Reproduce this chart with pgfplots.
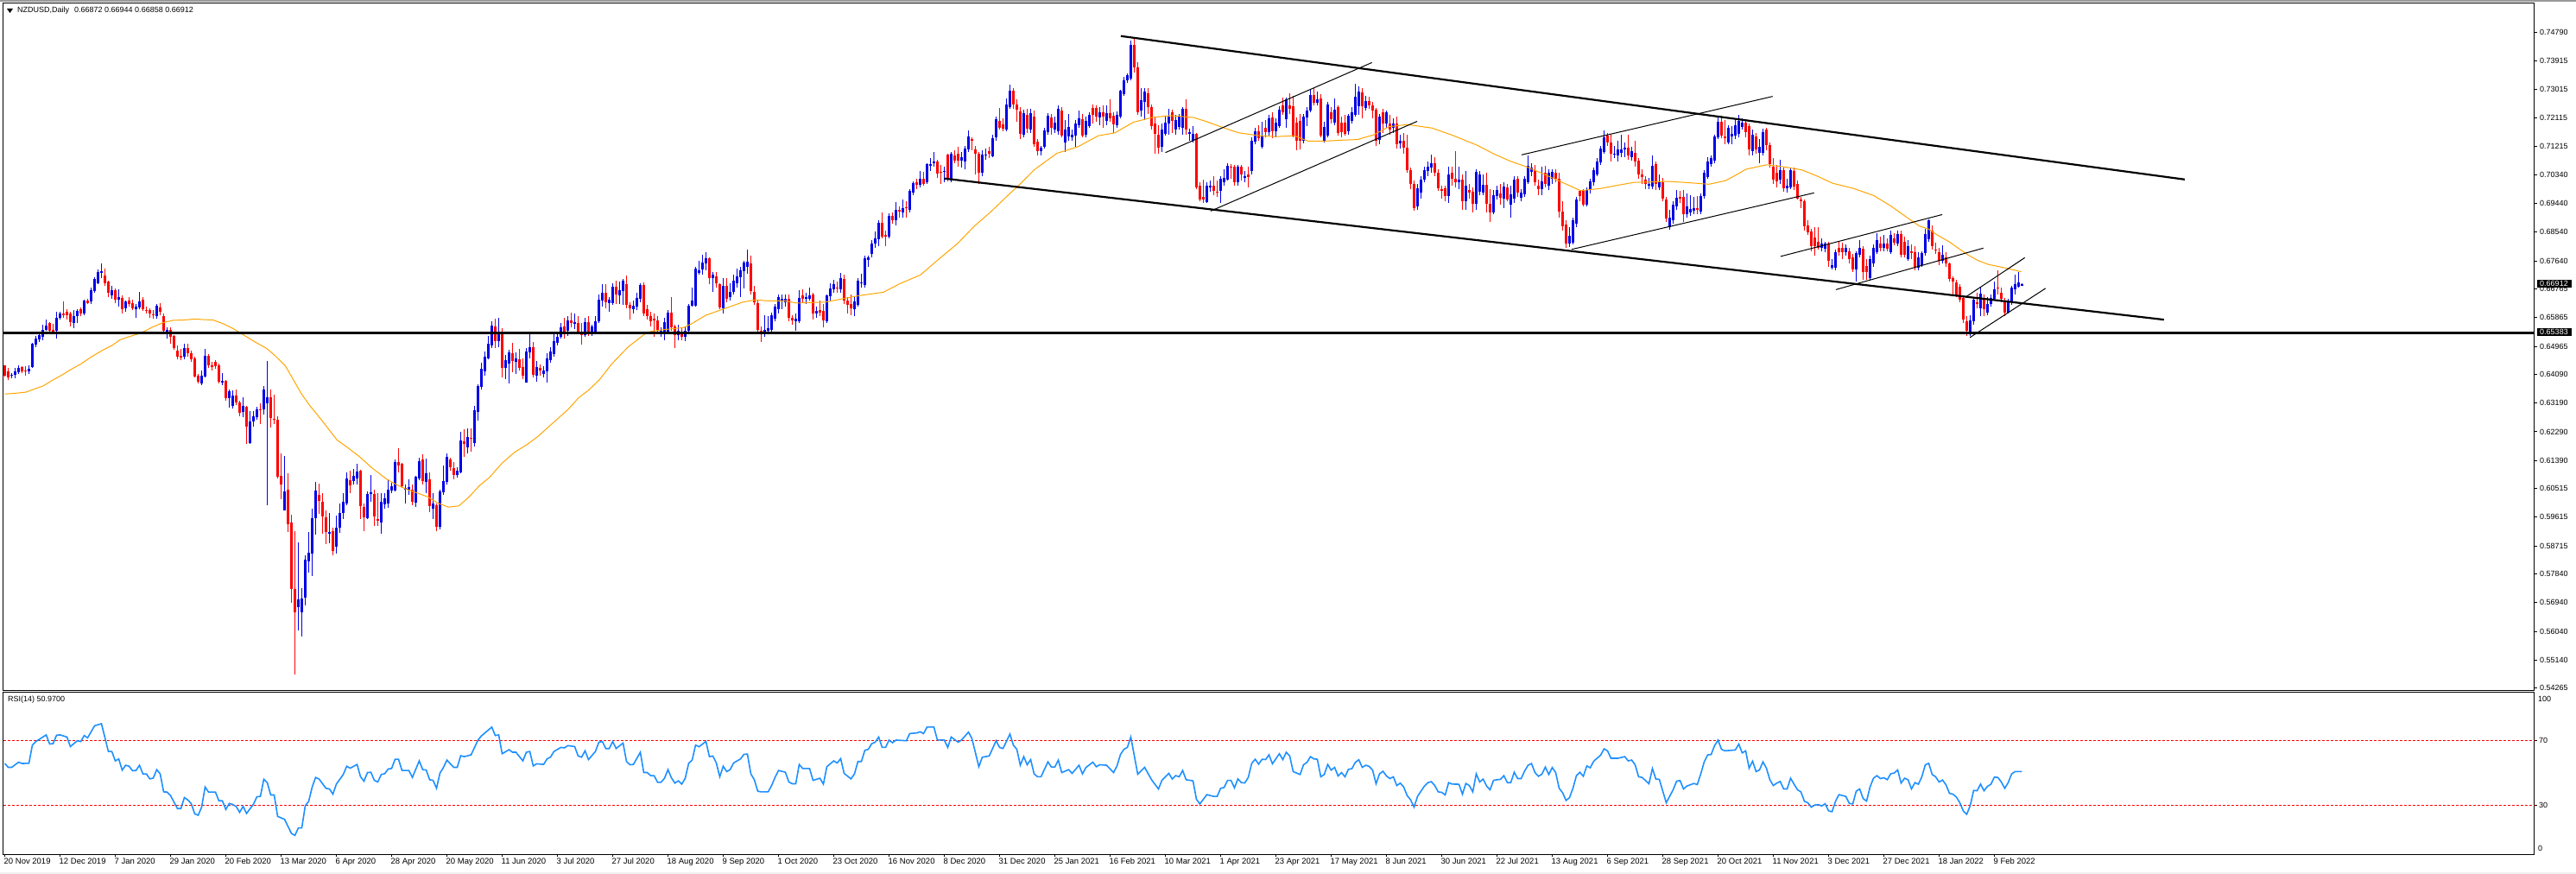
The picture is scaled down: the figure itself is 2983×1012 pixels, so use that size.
\documentclass[border=0pt]{standalone}
\usepackage{fontspec}
\setmainfont{Liberation Sans}
\usepackage{pgfplots}
\usepackage{pgfplotstable}
\pgfplotsset{compat=1.18}
\definecolor{cBull}{HTML}{0000E6}
\definecolor{cBear}{HTML}{FF0000}
\definecolor{cMA}{HTML}{FFA500}
\definecolor{cRSI}{HTML}{1E90FF}
% NZDUSD daily candles: bar index, open, high, low, close, in 1/10000
\pgfplotstableread{
i o h l c
0 6436 6438 6403 6405
1 6418 6430 6390 6400
2 6405 6412 6396 6407
3 6407 6430 6396 6418
4 6416 6436 6410 6430
5 6432 6435 6412 6418
6 6421 6434 6405 6418
7 6418 6436 6410 6427
8 6432 6508 6428 6504
9 6502 6528 6495 6522
10 6517 6536 6510 6531
11 6525 6563 6515 6549
12 6549 6580 6545 6562
13 6569 6573 6540 6545
14 6547 6566 6538 6543
15 6544 6604 6522 6585
16 6587 6604 6580 6599
17 6599 6637 6585 6594
18 6605 6614 6580 6594
19 6599 6605 6560 6573
20 6570 6609 6554 6591
21 6590 6614 6570 6607
22 6612 6618 6590 6599
23 6599 6642 6595 6639
24 6639 6645 6628 6633
25 6637 6680 6628 6672
26 6669 6712 6665 6707
27 6695 6738 6690 6729
28 6726 6756 6711 6732
29 6718 6740 6685 6695
30 6699 6702 6652 6663
31 6657 6686 6645 6671
32 6672 6678 6632 6642
33 6642 6676 6620 6651
34 6648 6655 6600 6614
35 6615 6640 6605 6636
36 6639 6650 6622 6630
37 6633 6643 6610 6616
38 6612 6630 6585 6621
39 6618 6666 6612 6636
40 6642 6650 6608 6612
41 6611 6620 6598 6607
42 6609 6615 6585 6599
43 6597 6610 6582 6594
44 6591 6628 6582 6624
45 6618 6632 6595 6606
46 6590 6600 6535 6545
47 6543 6556 6520 6547
48 6547 6556 6505 6526
49 6529 6533 6485 6490
50 6483 6500 6455 6463
51 6466 6488 6452 6462
52 6463 6505 6455 6492
53 6490 6505 6465 6474
54 6474 6483 6448 6456
55 6460 6465 6398 6402
56 6405 6410 6380 6387
57 6380 6420 6376 6405
58 6402 6488 6398 6466
59 6468 6472 6428 6436
60 6438 6447 6420 6432
61 6447 6452 6425 6434
62 6438 6442 6380 6387
63 6384 6412 6375 6389
64 6389 6392 6325 6333
65 6333 6362 6305 6355
66 6310 6358 6303 6342
67 6342 6360 6312 6321
68 6322 6325 6278 6289
69 6290 6336 6276 6310
70 6306 6310 6191 6245
71 6194 6295 6192 6262
72 6262 6295 6245 6277
73 6275 6306 6268 6298
74 6298 6317 6252 6296
75 6298 6372 6284 6361
76 6318 6451 6000 6337
77 6337 6362 6241 6271
78 6270 6344 6252 6267
79 6267 6277 6084 6087
80 6090 6160 6017 6063
81 5984 6152 5984 6043
82 6048 6099 5916 5940
83 5946 5968 5693 5738
84 5738 5918 5468 5663
85 5680 5882 5606 5704
86 5665 5740 5587 5706
87 5709 5843 5686 5828
88 5822 5914 5789 5851
89 5847 5988 5778 5959
90 5958 6071 5907 6044
91 6031 6066 5972 6013
92 6010 6037 5911 5964
93 5961 5983 5877 5915
94 5909 5974 5880 5915
95 5919 5929 5843 5857
96 5868 5967 5848 5930
97 5929 6004 5913 5975
98 5975 6037 5956 6010
99 6004 6101 5999 6084
100 6077 6107 6037 6061
101 6074 6112 6063 6090
102 6082 6130 6063 6105
103 6107 6110 5956 5995
104 5993 6004 5918 5961
105 5959 6041 5955 6033
106 6033 6093 6010 6039
107 6033 6047 5934 5965
108 5956 6037 5934 5951
109 5946 6037 5909 6010
110 6002 6037 5988 6020
111 6004 6080 5990 6048
112 6045 6069 6037 6058
113 6045 6141 6043 6135
114 6133 6177 6101 6124
115 6128 6131 6053 6058
116 6048 6063 6004 6054
117 6048 6080 6031 6055
118 6048 6063 5999 6010
119 6006 6090 5993 6087
120 6084 6149 6077 6136
121 6143 6159 6063 6074
122 6073 6144 6037 6100
123 6080 6101 5977 5995
124 5987 6037 5956 6004
125 5998 6004 5918 5932
126 5932 6047 5923 6042
127 6039 6123 6031 6075
128 6071 6160 6063 6151
129 6143 6149 6107 6119
130 6114 6133 6080 6093
131 6094 6117 6085 6107
132 6102 6230 6099 6201
133 6199 6236 6150 6190
134 6180 6241 6160 6213
135 6211 6239 6166 6209
136 6194 6311 6182 6296
137 6290 6378 6263 6373
138 6369 6445 6360 6427
139 6418 6480 6405 6463
140 6460 6528 6455 6504
141 6499 6575 6490 6562
142 6560 6583 6490 6513
143 6513 6585 6495 6540
144 6540 6553 6400 6429
145 6429 6470 6395 6452
146 6442 6485 6380 6477
147 6475 6508 6415 6450
148 6447 6478 6410 6459
149 6456 6488 6420 6429
150 6432 6460 6395 6405
151 6382 6490 6382 6479
152 6477 6535 6460 6495
153 6495 6510 6400 6407
154 6405 6450 6385 6432
155 6429 6440 6405 6420
156 6409 6435 6398 6421
157 6418 6475 6383 6459
158 6454 6495 6445 6481
159 6472 6535 6465 6513
160 6507 6540 6500 6526
161 6526 6570 6520 6555
162 6558 6585 6520 6543
163 6544 6592 6530 6579
164 6578 6603 6555 6570
165 6567 6600 6550 6573
166 6570 6590 6535 6543
167 6540 6570 6503 6531
168 6531 6585 6525 6571
169 6571 6590 6530 6537
170 6535 6565 6530 6558
171 6543 6590 6535 6576
172 6574 6660 6570 6642
173 6639 6690 6620 6663
174 6663 6692 6615 6635
175 6632 6650 6605 6643
176 6633 6693 6625 6684
177 6684 6703 6628 6659
178 6657 6700 6630 6671
179 6669 6708 6625 6702
180 6690 6718 6615 6625
181 6625 6635 6580 6615
182 6612 6640 6600 6624
183 6621 6665 6610 6648
184 6644 6695 6635 6689
185 6689 6697 6592 6600
186 6612 6625 6580 6590
187 6591 6605 6560 6576
188 6583 6600 6525 6579
189 6579 6590 6535 6544
190 6540 6556 6525 6546
191 6540 6585 6516 6571
192 6540 6610 6535 6603
193 6603 6652 6545 6555
194 6558 6565 6490 6531
195 6531 6565 6515 6544
196 6534 6555 6515 6526
197 6525 6560 6513 6546
198 6544 6630 6535 6624
199 6624 6680 6620 6639
200 6624 6745 6620 6741
201 6726 6765 6720 6735
202 6738 6783 6720 6759
203 6756 6790 6735 6772
204 6772 6776 6690 6711
205 6711 6730 6668 6720
206 6716 6730 6680 6693
207 6690 6695 6612 6618
208 6616 6710 6600 6687
209 6687 6710 6635 6644
210 6651 6695 6640 6666
211 6666 6722 6660 6702
212 6693 6740 6680 6716
213 6714 6745 6650 6735
214 6732 6765 6678 6759
215 6744 6799 6725 6761
216 6756 6780 6660 6669
217 6666 6687 6625 6634
218 6633 6640 6540 6549
219 6546 6560 6510 6540
220 6543 6595 6525 6549
221 6544 6590 6535 6553
222 6549 6601 6540 6594
223 6583 6630 6575 6621
224 6614 6660 6600 6651
225 6639 6660 6612 6644
226 6634 6660 6620 6644
227 6644 6658 6575 6585
228 6585 6595 6565 6579
229 6576 6600 6545 6582
230 6576 6672 6570 6648
231 6657 6675 6635 6644
232 6644 6665 6630 6651
233 6644 6680 6640 6657
234 6660 6665 6580 6599
235 6599 6620 6585 6607
236 6609 6640 6590 6603
237 6607 6630 6555 6579
238 6576 6660 6570 6657
239 6653 6695 6640 6678
240 6675 6705 6665 6690
241 6681 6700 6665 6678
242 6675 6727 6665 6711
243 6708 6722 6630 6639
244 6639 6650 6600 6627
245 6628 6660 6595 6615
246 6612 6650 6590 6636
247 6627 6710 6620 6702
248 6693 6725 6680 6696
249 6689 6780 6680 6772
250 6768 6780 6745 6774
251 6785 6830 6775 6817
252 6819 6855 6805 6835
253 6833 6890 6810 6882
254 6882 6915 6835 6840
255 6846 6860 6810 6840
256 6840 6912 6835 6905
257 6905 6915 6880 6891
258 6891 6948 6875 6923
259 6923 6935 6900 6918
260 6916 6955 6900 6930
261 6932 6950 6900 6930
262 6923 6990 6915 6982
263 6979 7012 6970 7007
264 7009 7020 6990 7002
265 7002 7045 6995 7020
266 7020 7042 7000 7006
267 7011 7070 7005 7067
268 7061 7085 7045 7067
269 7069 7105 7060 7076
270 7076 7080 7025 7038
271 7043 7065 7005 7040
272 7043 7060 7010 7045
273 7096 7100 7012 7020
274 7015 7105 7010 7099
275 7094 7110 7070 7078
276 7099 7120 7060 7078
277 7079 7105 7055 7090
278 7076 7125 7050 7117
279 7112 7172 7105 7153
280 7146 7150 7110 7139
281 7112 7125 7035 7100
282 7100 7105 7004 7040
283 7040 7110 7030 7097
284 7094 7115 7080 7097
285 7108 7120 7085 7099
286 7092 7160 7090 7148
287 7150 7215 7140 7209
288 7201 7242 7175 7182
289 7192 7210 7170 7177
290 7174 7272 7170 7254
291 7246 7316 7240 7297
292 7297 7305 7240 7255
293 7255 7270 7200 7237
294 7232 7245 7145 7162
295 7158 7238 7150 7228
296 7220 7240 7165 7178
297 7175 7240 7165 7228
298 7216 7235 7120 7130
299 7137 7145 7095 7108
300 7108 7125 7095 7119
301 7121 7180 7115 7173
302 7168 7228 7160 7219
303 7213 7225 7160 7180
304 7174 7215 7165 7196
305 7171 7250 7160 7240
306 7234 7245 7150 7157
307 7135 7205 7105 7175
308 7153 7225 7140 7184
309 7150 7175 7140 7159
310 7157 7205 7120 7193
311 7189 7235 7180 7211
312 7209 7225 7150 7157
313 7159 7215 7150 7201
314 7187 7228 7180 7220
315 7243 7255 7195 7220
316 7243 7252 7200 7216
317 7213 7245 7190 7229
318 7229 7250 7180 7216
319 7202 7250 7190 7227
320 7227 7270 7200 7211
321 7219 7230 7165 7192
322 7189 7232 7180 7222
323 7216 7300 7210 7296
324 7285 7340 7280 7330
325 7329 7350 7320 7345
326 7336 7455 7330 7441
327 7439 7465 7355 7369
328 7369 7385 7222 7229
329 7234 7305 7215 7268
330 7261 7305 7205 7293
331 7288 7305 7225 7246
332 7246 7255 7175 7187
333 7193 7215 7100 7162
334 7160 7190 7100 7119
335 7121 7195 7105 7175
336 7162 7215 7155 7198
337 7195 7240 7160 7216
338 7229 7238 7165 7202
339 7175 7220 7160 7204
340 7184 7225 7175 7216
341 7180 7245 7160 7240
342 7240 7270 7160 7175
343 7162 7178 7140 7168
344 7139 7185 7135 7162
345 7162 7165 6990 6995
346 7000 7010 6950 6957
347 6964 7018 6945 6955
348 6948 7010 6945 7000
349 6993 7015 6980 7000
350 7000 7030 6970 6984
351 6981 7015 6965 6977
352 6984 7030 6945 7022
353 7011 7050 7000 7024
354 7018 7070 7015 7061
355 7060 7068 7020 7056
356 7058 7065 7000 7011
357 7009 7065 7000 7060
358 7058 7065 7015 7036
359 7024 7045 7010 7029
360 7036 7060 6995 7027
361 7045 7150 7035 7139
362 7137 7180 7130 7171
363 7171 7190 7140 7148
364 7121 7200 7115 7157
365 7180 7205 7150 7168
366 7166 7220 7155 7211
367 7213 7228 7148 7171
368 7171 7210 7150 7198
369 7186 7247 7180 7237
370 7252 7275 7222 7229
371 7207 7275 7180 7270
372 7252 7288 7225 7240
373 7247 7280 7150 7153
374 7198 7212 7110 7139
375 7202 7225 7113 7139
376 7139 7225 7132 7216
377 7213 7245 7185 7234
378 7234 7300 7230 7284
379 7284 7305 7250 7258
380 7258 7295 7250 7270
381 7273 7285 7150 7157
382 7139 7200 7135 7184
383 7157 7262 7150 7255
384 7229 7245 7195 7207
385 7198 7272 7190 7238
386 7246 7250 7155 7165
387 7198 7215 7150 7166
388 7198 7220 7155 7162
389 7171 7225 7160 7219
390 7202 7245 7195 7228
391 7220 7318 7215 7279
392 7247 7310 7220 7294
393 7292 7305 7210 7247
394 7243 7280 7235 7265
395 7265 7278 7240 7252
396 7252 7262 7210 7234
397 7238 7243 7125 7139
398 7144 7225 7130 7216
399 7229 7240 7165 7193
400 7193 7235 7180 7228
401 7193 7220 7160 7175
402 7180 7210 7165 7193
403 7193 7215 7115 7130
404 7132 7160 7115 7141
405 7139 7165 7100 7119
406 7119 7160 7040 7049
407 7049 7055 6990 7004
408 7004 7015 6920 6930
409 6934 7005 6925 6991
410 6977 7030 6960 7018
411 7018 7060 7010 7049
412 7045 7075 7030 7058
413 7056 7098 7040 7069
414 7069 7088 7030 7040
415 7040 7050 6982 6991
416 6988 7000 6960 6982
417 6991 7000 6950 6968
418 6968 7060 6945 7034
419 7040 7060 7000 7022
420 7022 7107 6995 7010
421 7009 7060 6990 7019
422 7018 7035 6925 6950
423 6950 7045 6925 7000
424 6986 7005 6960 6979
425 6981 6995 6915 6943
426 6943 7050 6925 7043
427 6981 7045 6970 7036
428 6979 7035 6970 7002
429 7002 7040 6915 6943
430 6943 6990 6885 6916
431 6916 6985 6910 6970
432 6968 7000 6955 6986
433 6975 7005 6940 6961
434 6959 7010 6930 6997
435 6995 7005 6950 6957
436 6939 7000 6900 6973
437 6959 7030 6945 7018
438 7020 7030 6965 6977
439 6961 6990 6950 6977
440 6973 7030 6965 7020
441 7011 7095 7005 7063
442 7042 7070 7030 7055
443 7049 7065 7000 7011
444 7000 7018 6970 6988
445 6990 7060 6970 7013
446 7040 7062 6995 7004
447 7000 7050 6985 7040
448 7022 7050 7005 7042
449 7040 7050 7010 7020
450 7020 7040 6900 6918
451 6918 6950 6858 6873
452 6878 6890 6805 6819
453 6819 6870 6808 6844
454 6822 6900 6815 6891
455 6880 6965 6870 6955
456 6982 6985 6950 6968
457 6986 6990 6935 6941
458 6939 6995 6935 6986
459 6986 7020 6975 7013
460 7009 7055 7000 7047
461 7036 7085 7030 7074
462 7072 7125 7065 7117
463 7105 7172 7100 7150
464 7155 7165 7125 7135
465 7135 7160 7075 7099
466 7096 7125 7085 7100
467 7094 7140 7075 7112
468 7103 7160 7090 7114
469 7112 7135 7090 7119
470 7119 7160 7080 7094
471 7090 7120 7078 7107
472 7103 7140 7060 7074
473 7078 7085 7020 7036
474 7036 7050 7005 7027
475 7018 7030 6990 7004
476 7000 7025 6990 7004
477 6997 7093 6990 7063
478 7067 7075 6985 7006
479 6995 7035 6985 7011
480 7009 7025 6950 6959
481 6957 6965 6885 6898
482 6869 6925 6862 6900
483 6891 6950 6880 6939
484 6934 6985 6925 6961
485 6964 6982 6945 6959
486 6964 6985 6885 6909
487 6909 6975 6900 6934
488 6916 6970 6905 6927
489 6921 6965 6910 6930
490 6928 6968 6910 6925
491 6918 6975 6910 6968
492 6968 7048 6960 7040
493 7027 7088 7020 7074
494 7067 7095 7060 7087
495 7078 7160 7070 7153
496 7150 7215 7145 7200
497 7200 7218 7148 7157
498 7153 7205 7130 7148
499 7135 7190 7130 7180
500 7153 7185 7130 7162
501 7157 7205 7145 7189
502 7162 7220 7150 7202
503 7184 7210 7175 7198
504 7198 7205 7150 7166
505 7186 7195 7095 7112
506 7108 7175 7095 7159
507 7153 7165 7100 7112
508 7103 7145 7070 7121
509 7103 7178 7095 7168
510 7175 7180 7110 7126
511 7126 7135 7055 7067
512 7060 7085 7005 7018
513 7040 7065 6995 7013
514 7018 7080 7005 7049
515 7047 7055 6980 6991
516 6991 7020 6978 7000
517 6995 7055 6990 7049
518 7045 7055 6985 6997
519 7004 7015 6955 6959
520 6955 6965 6930 6950
521 6950 6955 6860 6873
522 6876 6890 6845 6853
523 6855 6865 6795 6810
524 6837 6870 6780 6810
525 6825 6870 6800 6806
526 6806 6835 6795 6817
527 6801 6825 6790 6819
528 6819 6825 6745 6765
529 6743 6770 6738 6752
530 6743 6800 6735 6790
531 6806 6825 6780 6792
532 6806 6822 6770 6792
533 6792 6815 6780 6804
534 6795 6805 6755 6770
535 6774 6785 6730 6738
536 6738 6795 6700 6788
537 6783 6830 6775 6806
538 6801 6810 6705 6729
539 6747 6770 6705 6729
540 6711 6780 6703 6770
541 6756 6815 6745 6806
542 6792 6850 6785 6828
543 6817 6840 6795 6806
544 6806 6845 6795 6817
545 6817 6835 6795 6801
546 6792 6860 6785 6846
547 6835 6850 6812 6822
548 6819 6860 6810 6849
549 6849 6860 6775 6783
550 6824 6840 6775 6783
551 6770 6830 6765 6810
552 6794 6815 6770 6788
553 6792 6810 6735 6743
554 6743 6790 6735 6774
555 6750 6795 6745 6788
556 6788 6865 6780 6849
557 6833 6893 6825 6891
558 6860 6875 6800 6810
559 6799 6820 6785 6797
560 6792 6805 6750 6765
561 6765 6812 6755 6783
562 6774 6790 6745 6756
563 6756 6760 6700 6708
564 6711 6716 6660 6698
565 6696 6705 6650 6657
566 6684 6690 6635 6642
567 6648 6655 6570 6580
568 6576 6590 6530 6544
569 6537 6595 6528 6579
570 6576 6650 6565 6642
571 6634 6665 6615 6630
572 6615 6680 6590 6662
573 6648 6660 6590 6612
574 6603 6650 6595 6630
575 6630 6660 6620 6648
576 6644 6700 6640 6675
577 6680 6735 6660 6678
578 6663 6680 6635 6644
579 6639 6648 6590 6603
580 6603 6645 6598 6639
581 6634 6685 6625 6680
582 6675 6720 6660 6691
583 6684 6729 6680 6696
584 6687 6694 6686 6691
}\ohlc
% moving average read at its bends: bar index, value
\pgfplotstableread{
i v
0 .6347
3.5 .6350
6.1 .6353
8.9 .6364
11.2 .6373
13.6 .6389
16.6 .6407
19 .6423
22 .6441
25 .6463
28.6 .6486
31 .6499
33.4 .6517
35.8 .6526
39.4 .6538
43 .6558
45.9 .6571
48.9 .6578
51.9 .6579
54.9 .6582
57.9 .6580
60.3 .6579
63.3 .6567
66.3 .6551
69.3 .6531
72.8 .6508
75.8 .6490
78.2 .6468
81.2 .6436
83.6 .6391
86 .6346
88.4 .6310
92 .6262
96.2 .6203
99.2 .6180
102.7 .6151
106.3 .6116
110.5 .6081
113.5 .6063
116.5 .6048
119.5 .6037
122.5 .6025
125.5 .6005
128.5 .5993
131.5 .5997
134.4 .6025
137.4 .6060
140.4 .6087
144 .6131
147.6 .6165
151.2 .6189
154.2 .6213
157.2 .6242
160.2 .6271
163.2 .6300
166.1 .6335
169.1 .6360
172.1 .6391
175.7 .6441
180.5 .6495
185.9 .6540
187.4 .6544
191 .6549
196.4 .6555
198.8 .6567
203 .6594
207.7 .6612
213.7 .6635
217.3 .6642
220.9 .6639
225.7 .6639
229.3 .6632
237.6 .6635
242.4 .6645
247.2 .6655
254.4 .6666
259.2 .6693
265.1 .6720
269.9 .6765
275.9 .6819
280.7 .6873
285.5 .6918
290.3 .6968
293.9 .7004
298 .7049
304.6 .7101
310.6 .7121
316.6 .7156
321.4 .7165
326.7 .7198
332.1 .7213
337.5 .7219
344.1 .7213
347.7 .7201
353.1 .7180
357.2 .7165
363.2 .7156
368 .7153
373.4 .7156
377.3 .7139
382 .7139
386.9 .7142
391.6 .7144
396.4 .7159
400.6 .7184
406 .7191
413.2 .7180
419.2 .7157
426.3 .7126
431.1 .7099
435.9 .7076
440.7 .7058
445.5 .7036
450.3 .7013
456.2 .6984
462.2 .6991
467 .7001
471.8 .7010
476.6 .7011
481.4 .7013
487.3 .7009
493.3 .7004
498.1 .7015
501.7 .7036
504.1 .7051
510.1 .7065
515.4 .7058
520.2 .7049
524.4 .7031
529.2 .7007
535.2 .6991
541.2 .6968
546 .6936
550.7 .6900
554.3 .6873
556.9 .6864
559.3 .6846
562.9 .6824
565.9 .6801
568.3 .6783
571.3 .6765
574.2 .6753
579.6 .6741
583.8 .6730
}\ma
% RSI(14) read from the lower pane: bar index, value
\pgfplotstableread{
i v
0 56.1
1 53.6
2 53.6
4 56.8
5 56
7 56.1
8 67.3
9 69.5
12 73.6
13 68
14 68.2
15 73.4
16 73.6
18 72.3
19 66.4
21 70
22 69.5
23 73.2
24 71.8
26 79.2
28 80.5
30 63.4
31 63.4
32 57.6
33 58.8
34 51.9
35 54.9
36 54.3
37 51.5
38 51.7
39 54.9
40 49.6
41 49.6
42 46.5
43 47
44 52.2
45 49.6
46 38.5
47 38.4
48 36.2
50 28.2
51 28.2
52 35
53 33.6
54 31.2
55 25
56 24.1
57 29.1
58 41.5
59 38.4
61 38.4
62 33
63 33
64 27.7
65 31.4
66 30.7
67 29.5
68 25.9
69 29.6
70 25.2
72 30.9
73 35.5
74 35.7
75 46.3
76 44.2
77 36.6
78 36.6
79 23.4
81 21.6
83 12.9
84 11.7
85 16.3
86 16.3
87 30
88 32.7
89 41.5
90 47.4
91 46.4
93 40.7
94 40.3
95 37.1
96 43.3
98 49.2
99 54.3
100 53.1
102 55.4
103 47.8
104 45.1
105 50.4
106 50.6
107 45.6
108 44.6
109 49.2
110 49.7
111 52.6
112 52.9
113 58.6
114 58.6
115 51.7
117 51.7
118 47.4
120 57.6
121 52.2
122 52
123 46
124 45.6
125 40.7
126 50.1
127 53.5
128 58.1
129 55.8
130 53.6
131 53.6
132 60.8
133 60.2
135 61.3
137 70.4
138 73
141 78.4
142 73.2
143 73.6
144 62
146 64.5
147 62.9
148 62.9
150 57.6
151 62.9
152 63.4
153 54.5
154 55.8
156 55.4
157 58.8
158 59.9
159 63.4
161 65.9
162 65.6
163 67
165 66.4
166 60.6
167 59.9
168 63.8
169 58.4
171 63.4
172 69.1
173 69.5
174 65.2
175 65.2
176 69.5
177 65.2
179 68.6
180 57.2
181 55.2
182 55.4
184 62.9
185 50.4
186 50.4
187 48.5
188 48.5
189 44.4
190 44.4
191 46.9
192 52.2
193 47.2
194 43.9
195 45.3
196 43.3
197 46.9
198 56.1
199 58.1
200 67.3
201 66.3
203 69.6
204 60.2
205 60.6
206 56.3
207 47.8
208 54.3
209 51
210 52.2
211 56.3
213 58.8
214 61.6
215 61.8
216 49.6
217 46
218 38.9
219 38.5
221 38.5
222 42.4
223 47.4
224 51.7
226 50.6
227 44.6
228 43.5
229 43.5
230 55.4
231 52.9
233 52.9
234 45.6
236 46.9
237 43.3
238 54
240 57.6
241 56.3
242 59
243 49.9
245 46.5
246 49.6
247 57.2
248 57.2
249 64.1
250 64.7
251 68.2
252 69.1
253 72.3
254 65.9
255 65.9
256 70.4
257 68.8
258 70.4
261 70
262 74.4
264 74.8
265 75.5
266 74.4
267 78.4
269 78.4
270 70.4
272 70.4
273 65.9
274 72.3
276 69.1
277 70.5
279 75.3
280 71.4
282 54
283 59.9
285 60.6
287 70
288 65.9
289 65.2
291 74.1
292 67.3
293 64.7
294 54.9
295 60.2
296 55.2
297 58.4
298 49.6
299 47.8
300 47.8
302 57
303 53.8
304 53.8
305 58.1
306 50.4
308 52.2
309 49.9
311 54.9
312 49.6
313 53.5
315 56.8
316 54
317 55.2
319 54.9
321 50.4
322 54.5
323 61.5
324 64.7
325 65.9
326 72.3
328 49.4
330 53.6
332 46
334 40.3
335 45.6
337 49.9
338 46.4
339 48.5
340 47.8
341 51.7
342 46
344 45.3
345 33.9
346 31.1
348 36.8
350 35.7
351 35.7
352 40.7
353 41.2
354 45.6
355 45.6
356 41
357 46.5
358 44.2
359 44
360 47.4
361 56.1
362 58.6
363 55.6
364 58.6
365 58.4
366 61.3
367 55.8
369 62
370 58.4
371 62.9
372 60.6
373 51
375 49.2
376 55.2
377 56.7
378 60.2
379 58.8
380 58.6
381 47.8
382 49.2
383 55.4
384 51.9
385 53.6
386 48.3
387 50.4
388 47.8
389 52.4
390 52.8
391 56.7
392 58.3
393 53.6
394 54.9
395 54.2
396 51.9
397 43.5
398 49.6
399 51.2
400 48.3
401 46.7
402 47.8
403 42.4
404 43.9
405 41.5
406 36.2
407 33.6
408 29.1
409 35.7
410 38.9
411 42.1
412 44.2
413 44.8
414 42.4
415 38.5
416 38.2
417 36.6
418 44.2
419 43.3
421 43.2
422 37.1
423 43.7
424 42.4
425 38.5
426 49.6
427 44.6
428 46.4
429 42.1
430 39.8
431 45.6
432 46
433 46.2
434 48.5
435 44.2
436 44.2
437 50.6
438 46.7
439 46.7
440 51.3
441 54.9
442 56
443 50.4
444 48.1
445 49.4
446 53.8
447 49.2
448 53.5
449 50.4
450 40.7
451 38
452 33.2
453 35
454 40.7
455 48.5
456 50.6
457 48.1
458 54.5
459 53.3
460 57.4
462 61.1
463 65
464 63.8
465 59.2
467 59.2
469 60.2
470 57.6
471 58.1
472 55.2
473 47.8
474 47.4
475 45.5
476 43.5
477 52.9
478 46.4
479 46.2
481 31.8
483 39.8
484 45.1
485 45.5
486 40.3
487 42.1
489 43.7
490 43
491 49.6
492 57
493 61.3
494 61.5
495 67
496 70.4
497 64.7
498 63.8
501 64.3
502 67.9
503 62.5
504 63.8
505 53.1
506 57.4
507 51
508 52
509 57
510 53.1
511 46
512 42.4
513 43.9
514 44.9
515 40.3
516 40.3
517 46.9
518 43.3
519 39.8
520 38.5
521 32.7
522 31.8
523 29.1
524 30.4
525 30.7
526 29.8
527 31.2
528 26.8
529 26.3
530 32.7
531 36.8
533 35.7
534 31.4
535 31.1
536 38.9
537 40.3
538 34.4
539 32.8
540 41.5
541 46.9
542 48.5
543 46.7
544 47.2
545 46
546 49.7
547 50.1
548 52
549 43.9
550 46.9
551 46
552 40.3
553 44.2
554 43.2
555 47.8
556 55.2
557 56.1
558 49.2
559 47.8
560 44.6
561 45.8
562 42.8
563 37.6
564 37.1
565 35.3
566 31.8
567 26.8
568 24.7
569 30
570 39.4
571 39.2
572 43.3
573 39.2
574 41.9
575 43.2
576 47.6
577 47.4
578 44.6
579 40.7
580 44.2
581 49.6
582 51
583 51
584 51
}\rsi
\pgfplotsset{
  wick/.style={draw=none,mark=none,forget plot,
    error bars/.cd,y dir=plus,y explicit,error mark=none,
    error bar style={solid,line width=1pt,line cap=butt,draw=#1}},
  body/.style={draw=none,mark=none,forget plot,
    error bars/.cd,y dir=plus,y explicit,error mark=none,
    error bar style={solid,line width=3pt,line cap=butt,draw=#1}},
  mt4/.style={scale only axis,xmin=-0.375,xmax=732.375,
    axis line style={line width=1pt},
    every tick/.style={black,line width=1pt},
    major tick length=3pt,tick align=outside,
    unbounded coords=discard,clip=true},
}
\begin{document}
\fontsize{9.5pt}{11pt}\selectfont
\begin{tikzpicture}[x=1pt,y=1pt]
\useasboundingbox (0,0) rectangle (2983,1012);
\fill[white] (0,0) rectangle (2983,1012);
\fill[black!40] (0,1010) rectangle (2983,1012);
\fill[black!6] (0,0) rectangle (2983,2);
\begin{axis}[mt4,name=main,anchor=south west,at={(4pt,212.7pt)},
  width=2931pt,height=795.3pt,
  ymin=0.54195,ymax=0.75701,
  xtick=\empty,
  ytick pos=right,yticklabel pos=right,
  ytick={0.7479,0.73915,0.73015,0.72115,0.71215,0.7034,0.6944,0.6854,0.6764,0.66765,0.65865,0.64965,0.6409,0.6319,0.6229,0.6139,0.60515,0.59615,0.58715,0.5784,0.5694,0.5604,0.5514,0.54265},
  yticklabels={0.74790,0.73915,0.73015,0.72115,0.71215,0.70340,0.69440,0.68540,0.67640,0.66765,0.65865,0.64965,0.64090,0.63190,0.62290,0.61390,0.60515,0.59615,0.58715,0.57840,0.56940,0.56040,0.55140,0.54265},
  yticklabel style={inner sep=0pt,anchor=west,xshift=3pt,font=\fontsize{9pt}{11pt}\selectfont},
]
\addplot[wick=cBull] table[x=i,y expr={\thisrow{c}>\thisrow{o}?\thisrow{l}/10000:nan},y error plus expr={(\thisrow{h}-\thisrow{l})/10000}]{\ohlc};
\addplot[wick=cBear] table[x=i,y expr={\thisrow{c}>\thisrow{o}?nan:\thisrow{l}/10000},y error plus expr={(\thisrow{h}-\thisrow{l})/10000}]{\ohlc};
\addplot[body=cBull] table[x=i,y expr={\thisrow{c}>\thisrow{o}?\thisrow{o}/10000:nan},y error plus expr={(\thisrow{c}-\thisrow{o})/10000}]{\ohlc};
\addplot[body=cBear] table[x=i,y expr={\thisrow{c}>\thisrow{o}?nan:\thisrow{c}/10000},y error plus expr={(\thisrow{o}-\thisrow{c})/10000}]{\ohlc};
\addplot[cMA,line width=1pt] table[x=i,y=v]{\ma};
% channel lines
\addplot[black,line width=2.2pt] coordinates {(323.1,0.7468) (631.1,0.7019)};
\addplot[black,line width=2.2pt] coordinates {(272,0.7022) (625.1,0.6580)};
\addplot[black,line width=2.2pt] coordinates {(-0.375,0.65383) (732.375,0.65383)};
\addplot[black,line width=1pt] coordinates {(336,0.7103) (395.8,0.7385)};
\addplot[black,line width=1pt] coordinates {(349.1,0.6920) (408.9,0.7201)};
\addplot[black,line width=1pt] coordinates {(439.1,0.7096) (511.8,0.7279)};
\addplot[black,line width=1pt] coordinates {(453.6,0.6800) (523.8,0.6977)};
\addplot[black,line width=1pt] coordinates {(514.1,0.6778) (560.9,0.6909)};
\addplot[black,line width=1pt] coordinates {(530.1,0.6674) (572.8,0.6804)};
\addplot[black,line width=1pt] coordinates {(567.7,0.6651) (584.8,0.6774)};
\addplot[black,line width=1pt] coordinates {(568.9,0.6524) (590.8,0.6678)};
\end{axis}
\begin{axis}[mt4,name=rsi,anchor=south west,at={(4pt,22.7pt)},
  width=2931pt,height=188pt,
  ymin=0,ymax=100,
  ytick pos=right,yticklabel pos=right,
  ytick={30,70},yticklabels={30,70},
  yticklabel style={inner sep=0pt,anchor=west,xshift=2pt,font=\fontsize{9pt}{11pt}\selectfont},
  xtick pos=bottom,
  xtick={0,16,...,576},
  xticklabels={20 Nov 2019,12 Dec 2019,7 Jan 2020,29 Jan 2020,20 Feb 2020,13 Mar 2020,6 Apr 2020,28 Apr 2020,20 May 2020,11 Jun 2020,3 Jul 2020,27 Jul 2020,18 Aug 2020,9 Sep 2020,1 Oct 2020,23 Oct 2020,16 Nov 2020,8 Dec 2020,31 Dec 2020,25 Jan 2021,16 Feb 2021,10 Mar 2021,1 Apr 2021,23 Apr 2021,17 May 2021,8 Jun 2021,30 Jun 2021,22 Jul 2021,13 Aug 2021,6 Sep 2021,28 Sep 2021,20 Oct 2021,11 Nov 2021,3 Dec 2021,27 Dec 2021,18 Jan 2022,9 Feb 2022},
  xticklabel style={inner sep=0pt,anchor=north west,xshift=-1pt,yshift=-1pt,font=\fontsize{9.5pt}{11pt}\selectfont},
]
\addplot[cBear,line width=1pt,dash pattern=on 3pt off 2pt] coordinates {(-0.375,70) (732.375,70)};
\addplot[cBear,line width=1pt,dash pattern=on 3pt off 2pt] coordinates {(-0.375,30) (732.375,30)};
\addplot[cRSI,line width=1.6pt] table[x=i,y=v]{\rsi};
\end{axis}
% pane captions and price tags
\node[anchor=west,inner sep=0pt] at (20,999.5) {\fontsize{9pt}{11pt}\selectfont NZDUSD,Daily\hspace{6pt}0.66872 0.66944 0.66858 0.66912};
\fill[black] (8,1002) -- (15,1002) -- (11.5,997) -- cycle;
\node[anchor=west,inner sep=0pt] at (9,201.5) {\fontsize{9pt}{11pt}\selectfont RSI(14) 50.9700};
\node[anchor=west,inner sep=0pt] at (2939,203) {\fontsize{9pt}{11pt}\selectfont 100};
\node[anchor=west,inner sep=0pt] at (2939,29.5) {\fontsize{9pt}{11pt}\selectfont 0};
\fill[black] (2938,678.7) rectangle (2978,688);
\node[anchor=west,inner sep=0pt,text=white] at (2941,683.3) {\fontsize{9pt}{11pt}\selectfont 0.66912};
\fill[black] (2938,622.7) rectangle (2978,632);
\node[anchor=west,inner sep=0pt,text=white] at (2941,627.3) {\fontsize{9pt}{11pt}\selectfont 0.65383};
\end{tikzpicture}
\end{document}
